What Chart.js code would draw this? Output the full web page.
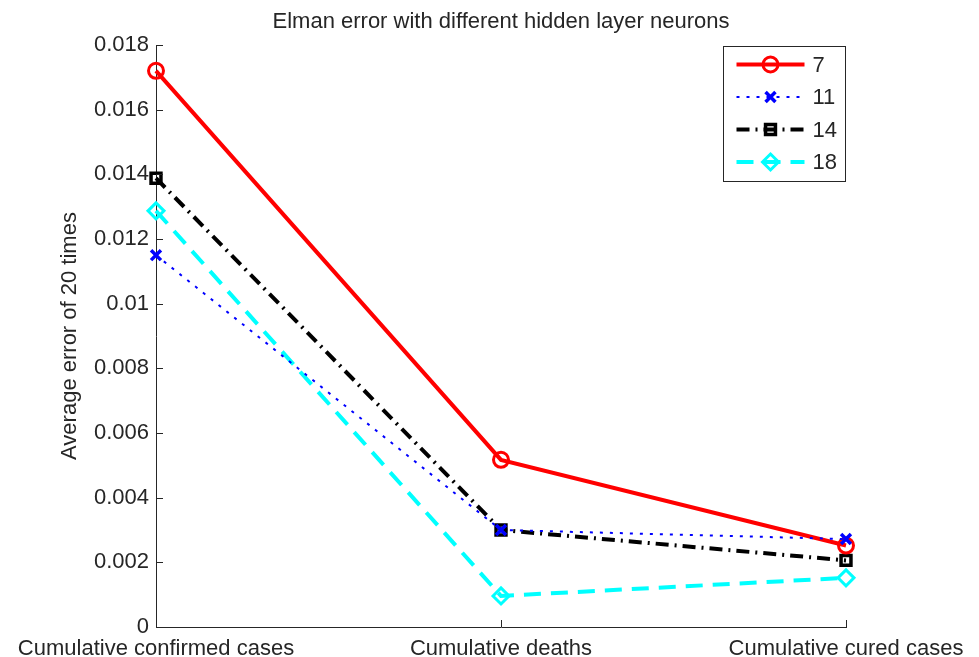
<!DOCTYPE html>
<html>
<head>
<meta charset="utf-8">
<script src="https://cdn.jsdelivr.net/npm/chart.js@4/dist/chart.umd.min.js"></script>
<style>
  html, body { margin: 0; padding: 0; background: #ffffff; }
  #wrap { width: 979px; height: 657px; position: relative; }
</style>
</head>
<body>
<div id="wrap"><canvas id="chart" width="979" height="657"></canvas></div>
<script>
// Categories on the x axis
const categories = ['Cumulative confirmed cases', 'Cumulative deaths', 'Cumulative cured cases'];

// Average error of 20 runs for each hidden-layer size
const neurons7  = [0.01720, 0.00517, 0.00252];
const neurons11 = [0.01150, 0.00300, 0.00272];
const neurons14 = [0.01388, 0.00300, 0.00206];
const neurons18 = [0.01287, 0.00096, 0.00152];

const seriesNames = ['7', '11', '14', '18'];

// Y axis tick values
const yTicks = [0, 0.002, 0.004, 0.006, 0.008, 0.010, 0.012, 0.014, 0.016, 0.018];

const FONT = '"Liberation Sans", Arial, Helvetica, sans-serif';
const TEXT = '#262626';
const AXIS = '#262626';

function drawMarker(ctx, style, x, y, r, lw, color) {
  ctx.save();
  ctx.strokeStyle = color;
  ctx.lineWidth = lw;
  ctx.setLineDash([]);
  ctx.beginPath();
  if (style === 'circle') {
    ctx.arc(x, y, r, 0, Math.PI * 2);
  } else if (style === 'crossRot') {
    const d = r * Math.SQRT1_2;
    ctx.moveTo(x - d, y - d); ctx.lineTo(x + d, y + d);
    ctx.moveTo(x - d, y + d); ctx.lineTo(x + d, y - d);
  } else if (style === 'rect') {
    const s = r * Math.SQRT1_2;
    ctx.rect(x - s, y - s, 2 * s, 2 * s);
  } else if (style === 'rectRot') {
    ctx.moveTo(x, y - r); ctx.lineTo(x + r, y); ctx.lineTo(x, y + r); ctx.lineTo(x - r, y); ctx.closePath();
  }
  ctx.stroke();
  ctx.restore();
}

// Inward-pointing tick marks on both axes
const innerTicks = {
  id: 'innerTicks',
  afterDraw(chart) {
    const { ctx, chartArea } = chart;
    const xs = chart.scales.x, ys = chart.scales.y;
    ctx.save();
    ctx.strokeStyle = AXIS;
    ctx.lineWidth = 1;
    ys.ticks.forEach(t => {
      const py = Math.round(ys.getPixelForValue(t.value)) + 0.5;
      ctx.beginPath();
      ctx.moveTo(chartArea.left, py);
      ctx.lineTo(chartArea.left + 7, py);
      ctx.stroke();
    });
    categories.forEach((c, i) => {
      const px = Math.round(xs.getPixelForValue(i)) + 0.5;
      ctx.beginPath();
      ctx.moveTo(px, chartArea.bottom);
      ctx.lineTo(px, chartArea.bottom - 7);
      ctx.stroke();
    });
    ctx.restore();
  }
};

// Boxed legend with line sample and marker, top-right of the plot
const boxLegend = {
  id: 'boxLegend',
  afterDraw(chart) {
    const { ctx, chartArea } = chart;
    const w = 122, h = 135;
    const left = chartArea.right - w - 0.5;
    const top = chartArea.top + 1.5;
    ctx.save();
    ctx.fillStyle = '#ffffff';
    ctx.fillRect(left, top, w, h);
    ctx.strokeStyle = AXIS;
    ctx.lineWidth = 1;
    ctx.setLineDash([]);
    ctx.strokeRect(left, top, w, h);
    chart.data.datasets.forEach((ds, i) => {
      const y = top + 18 + i * 32.5;
      const x0 = left + 13, x1 = left + 81, xm = left + 47;
      ctx.save();
      ctx.strokeStyle = ds.borderColor;
      ctx.lineWidth = ds.borderWidth;
      ctx.setLineDash(ds.borderDash || []);
      ctx.beginPath();
      ctx.moveTo(x0, y);
      ctx.lineTo(x1, y);
      ctx.stroke();
      ctx.restore();
      drawMarker(ctx, ds.pointStyle, xm, y, ds.pointRadius, ds.pointBorderWidth, ds.borderColor);
      ctx.fillStyle = TEXT;
      ctx.font = '22px ' + FONT;
      ctx.textAlign = 'left';
      ctx.textBaseline = 'middle';
      ctx.fillText(ds.label, left + 89, y + 1);
    });
    ctx.restore();
  }
};

const datasets = [
  { label: seriesNames[0], data: neurons7, borderColor: '#ff0000', borderWidth: 4, borderDash: [],
    pointStyle: 'circle', pointRadius: 7.5, pointBorderWidth: 3, order: 1 },
  { label: seriesNames[1], data: neurons11, borderColor: '#0000ff', borderWidth: 2, borderDash: [3, 7],
    pointStyle: 'crossRot', pointRadius: 7, pointBorderWidth: 3.5, order: 0 },
  { label: seriesNames[2], data: neurons14, borderColor: '#000000', borderWidth: 4, borderDash: [13, 6, 2, 6],
    pointStyle: 'rect', pointRadius: 7, pointBorderWidth: 3.5, order: 2 },
  { label: seriesNames[3], data: neurons18, borderColor: '#00ffff', borderWidth: 4, borderDash: [17, 10],
    pointStyle: 'rectRot', pointRadius: 8, pointBorderWidth: 3, order: 3 }
].map(d => Object.assign(d, {
  backgroundColor: 'rgba(0,0,0,0)',
  pointBackgroundColor: 'rgba(0,0,0,0)',
  pointBorderColor: d.borderColor,
  pointHoverRadius: d.pointRadius,
  tension: 0,
  fill: false,
  clip: false
}));

new Chart(document.getElementById('chart'), {
  type: 'line',
  data: { labels: categories, datasets },
  options: {
    responsive: false,
    animation: false,
    devicePixelRatio: 1,
    layout: { padding: { left: 0, right: 133, top: 0, bottom: 0 } },
    plugins: {
      legend: { display: false },
      tooltip: { enabled: false },
      title: {
        display: true,
        fullSize: false,
        text: 'Elman error with different hidden layer neurons',
        color: TEXT,
        font: { family: FONT, size: 22, weight: 'normal' },
        padding: { top: 9, bottom: 9.6 }
      }
    },
    scales: {
      x: {
        type: 'category',
        offset: false,
        afterFit(scale) { scale.height = 30; },
        grid: { display: false, drawTicks: false },
        border: { display: true, color: AXIS, width: 1 },
        ticks: { color: TEXT, font: { family: FONT, size: 22 }, padding: 9, maxRotation: 0, autoSkip: false }
      },
      y: {
        min: 0,
        max: 0.018,
        afterBuildTicks(scale) { scale.ticks = yTicks.map(v => ({ value: v })); },
        afterFit(scale) { scale.width = 156; },
        grid: { display: false, drawTicks: false },
        border: { display: true, color: AXIS, width: 1 },
        ticks: {
          color: TEXT,
          font: { family: FONT, size: 22 },
          padding: 7,
          callback: v => String(parseFloat(Number(v).toFixed(3)))
        },
        title: {
          display: true,
          text: 'Average error of 20 times',
          color: TEXT,
          font: { family: FONT, size: 22 },
          padding: { top: 57, bottom: 0 }
        }
      }
    }
  },
  plugins: [innerTicks, boxLegend]
});
</script>
</body>
</html>
